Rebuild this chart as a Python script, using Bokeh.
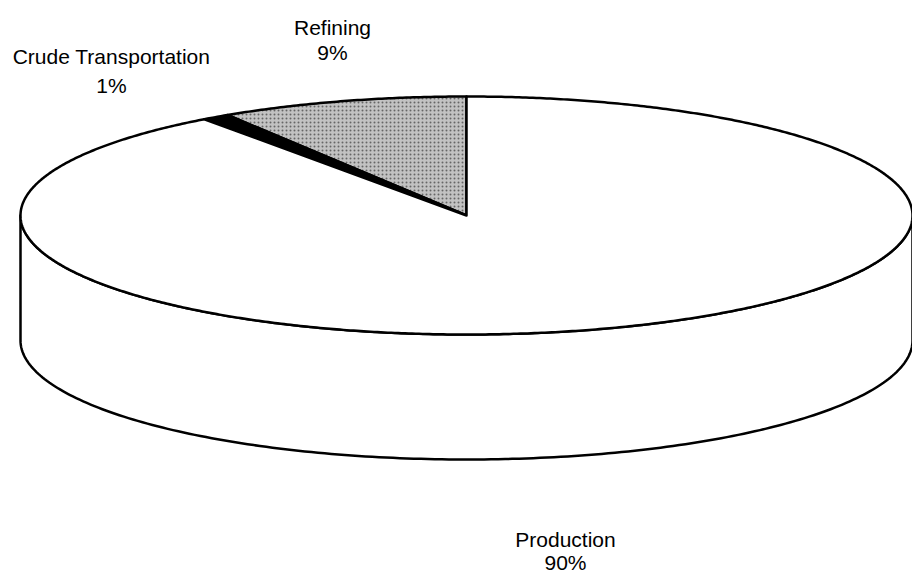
import numpy as np
from bokeh.plotting import figure
from bokeh.models import Range1d
from bokeh.embed import file_html
from bokeh.resources import INLINE
from bokeh.core.properties import value

# ---- data ----
categories = ["Refining", "Crude Transportation", "Production"]
percents = [9, 1, 90]

# ---- styles / layout ----
fills = ["#c2c2c2", "#000000", "#ffffff"]
hatches = [".", " ", " "]
label_pos = [(332, 27, 52), (111, 56, 85), (565, 539, 562)]

cx, cy = 466.0, 215.0   # centre of top face
ra, rb = 446.0, 119.0   # semi-axes of top face
depth = 125.0

p = figure(width=912, height=576, output_backend="svg", toolbar_location=None,
           x_range=Range1d(0, 912), y_range=Range1d(576, 0),
           min_border=0, outline_line_color=None)
p.axis.visible = False
p.grid.visible = False
p.background_fill_color = "white"
p.border_fill_color = "white"


def pt(theta_deg):
    t = np.radians(theta_deg)
    return cx - ra * np.sin(t), cy - rb * np.cos(t)


# side wall (front half, visible part)
th = np.linspace(90, 270, 200)
tx, ty = pt(th)
sx = np.concatenate([tx, tx[::-1]])
sy = np.concatenate([ty, (ty + depth)[::-1]])
p.patch(sx, sy, fill_color="white", line_color="black", line_width=2.5,
        line_join="round")

# top face slices (counter-clockwise from 12 o'clock)
start = 0.0
for cat, pct, fc, hp in zip(categories, percents, fills, hatches):
    end = start + pct * 3.6
    th = np.linspace(start, end, max(int(pct * 8), 8))
    ax, ay = pt(th)
    xs = np.concatenate([[cx], ax, [cx]])
    ys = np.concatenate([[cy], ay, [cy]])
    kw = {}
    if hp.strip():
        kw = dict(hatch_pattern=hp, hatch_color="#666666", hatch_scale=4,
                  hatch_weight=1)
    p.patch(xs, ys, fill_color=fc, line_color="black", line_width=2.5,
            line_join="round", **kw)
    start = end

# labels
for cat, pct, (lx, ly1, ly2) in zip(categories, percents, label_pos):
    p.text(x=[lx, lx], y=[ly1, ly2], text=[cat, f"{pct}%"],
           text_align="center", text_baseline="middle",
           text_font=value("Liberation Sans"), text_font_size="21px",
           text_color="black")

open("out.html", "w").write(file_html(p, INLINE))
